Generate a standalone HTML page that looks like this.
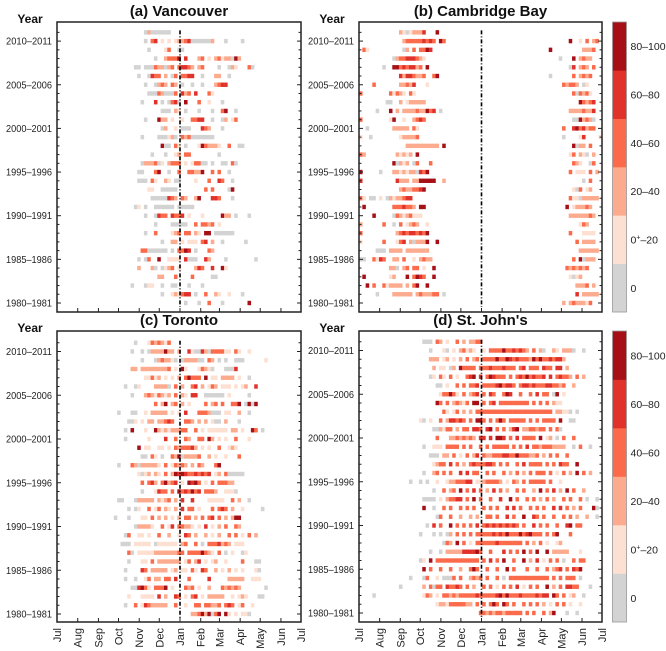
<!DOCTYPE html>
<html><head><meta charset="utf-8">
<style>
html,body{margin:0;padding:0;background:#fff;}
svg{display:block;font-family:"Liberation Sans",sans-serif;}
</style></head>
<body>
<svg id="chart" width="666" height="651" viewBox="0 0 666 651" xmlns="http://www.w3.org/2000/svg"></svg>
<script>
// ---- data ----
const categories = ["0","0+–20","20–40","40–60","60–80","80–100"];
const colors = ["#d3d3d3","#fee0d2","#fcab8e","#fb6a4a","#e0312a","#a50f15"];
const yearLabels = ["1980–1981","1985–1986","1990–1991","1995–1996","2000–2001","2005–2006","2010–2011"];
const monthLabels = ["Jul","Aug","Sep","Oct","Nov","Dec","Jan","Feb","Mar","Apr","May","Jun","Jul"];
const monthDays = [0,31,62,92,123,153,184,215,243,274,304,335,365];
// rows: index 0 = 2011-2012 (top) ... last = 1980-1981; "start:codes" pentad segments, '.' = no data
const vancouver = [
"26:02000000","26:0.34.1.1.122340000002...0....0","27:0....13..00","29:0..23335.4...23.1.23122052",
"23:00.000322023.34432.23....0..021...30","24:0..0433.2.03.3344..0...22..0","26:0..0232.32.0..0..0...2344",
"27:000320003.423.4...31","25:0...4.0.0340.5...3..1...0","31:000.21.0...0...0..35..0",
"26:0...522.1..1..3344..0..02.13","31:02..1.000...432...0","25:0....000120.3230000000",
"31:500.31.0...1532221..3..00","28:0...0..12.33........0","25:0222301.2333.1.13300.0..00.30",
"24:00...35..0..3..33225..3.3..0","24:000.31..21.00....1...3..43..0","27:11..00000........3.3....05",
"28:00000432.32..25...443...0","23:01.0..000000.00000","26:0..0433.4334.1...1.....522.0...0",
"29:0....00000..3.3323.1","26:0..3....123.33.21.55.000000","31:0..22.1.111.34.2..0......0",
"25:33000000.0.3354.0...32","24:0.03..5..1111.4000..42....0........0","24:2...20.0123.1....243..4..51",
"30:22...3....3.....00","22:0...011..0..00...0...0","31:0..121344.0..3..21..1...0","38:0...0..3...0.......5"];
const cambridge = [
"12:21012224...5","13:2333334343.53 63:5..1.3.23","1:31 13:02.3.3354 57:5 67:2223","10:0233444321 60:0...5.2322",
"7:0..553434423.5 63:04.232.3","12:42443223..35 57:0 64:3.2323","4:3 12:22324...1 61:32332.01",
"0:3 9:31321.31 64:303231","8:00..2.122222 66:53234","5:0...5.2.2222322534.0 63:22223224",
"0:3 9:15..1..2343 64:0052320","2:0 10:22222.31 61:3..4534233","0:1..0 12:122223 61:0....14....1",
"14:2222222222.5 64:5022.3","0:32 11:21212.5 63:13.210.2","10:50212.03...3 64:321..03",
"0:5 6:0 10:22121220435 63:3.111.3.2","0:4 11:4222.2255555..2 67:0.3","12:23223345 64:103.12",
"0:31.00.1.02122344 63:311022222","1:5 10:3334332.55 62:5.122232","4:5 10:032123111 63:22222232",
"0:2 7:3..0.3.1232..1 66:132","0:3 11:2343443435 63:3...1111","0:1 7:3...134.202225..5 65:3.2222",
"5:000.2222.2222222 66:222222","0:00..3143..22.3..1.2322 64:3.50222","9:220.23.33.1..5 62:3232323",
"1:5 9:12...5.3543..5 63:1012","2:5.3..312222.2.35..5 65:2223.2","5:0 10:222222.2322233.0 65:4.22222","61:2.2322213"];
const toronto = [
"23:0...1323213","22:0..0.02222522.2..4100420333311.31..1","25:0...0232210.0222200.32.0.0..000......1",
"22:22.222222223.1.51...13210...0004","26:11312.1.1.2.35333.5.11.2222.1..0",
"20:0..01....22220.3.2..34.2.132.111.1.12..4","22:0...23213212.3.21.44..000000.1.....0",
"29:3.25.23.2.1....3.23.3..335.0505","18:0...00..1.22222.1.1.4...3332000.11..2..0",
"21:001.1.22.22343...332.2.2.100.2...0","20:0.5...1..5212122233..3.1.111111.22.1..53.0",
"20:0......1....4..3..32..33.52.1.1..3...1","24:5.11..11.1.3233342.1.1..3..121",
"25:00.31.0..325022223..2.1..1...3","18:0...320222221.3.13232.2.32...35",
"24:1012.21.3.254543343434.12.300000","25:3.342.35234.1.5453.1.3.33322",
"25:0...1433.3.5343534.3332..1110","18:00...022222.2123.2.4..4....11111..3.2..0",
"21:0.01..3.13.21.2.4.33.1...3.343.2..1.....0","17:0...0...11.3.2.2.1.2.33.2.3.34.3.2.255",
"23:022221..3.14.33221.1.4.1.2.3..32","20:03..11.1..3..2..1.43.2..2.1.2..3.3.1.3.2",
"19:000.11111.0111111.23..3.0.3334232.111","21:30.11111222222233.33335321.3.0.1..01",
"21:0...11.3.2222222.13.24.1.12..1....3...00","20:0....43.22222.12.11.31.43..2.1.2.1.1...10",
"20:0..0..13.22.33.4...3.....4.....22222..111","22:004531.3335.1...323.1..2...323232.......0",
"21:1...1111.4.2..43.1.34.1.22222..1.121...00","20:0..3.14322222..3..1..33.33223.343.13..1",
"40:223525035.51.1.110"];
const stjohns = [
"19:000.32.1..3.2.2233","21:0...10.1.23121..1.333353343432.3.20..21.2220..0",
"21:222.12.1.2.3.23.3333533543433325353343442","22:2.11.02.53333.33343334333.34.333.433.44.2",
"21:01.31.3.1..345.4.354333.3.343534334.4.34332.3.2","23:00.1..3.3.334.3333453443.34434333443323..2",
"24:133531.3.234.3.43..354..3..3.4.33.05.1","23:53.3.23213.55.3.34.333333333.3.3.3.211",
"25:31.13.2.2.33333333333333333333333.22110.0","18:10.1..3.244343.3.553.3.353.33333.3.3.3333.5..00",
"22:002133.2.33.443.45.3.3.245.2233233.3.30","23:3...22323232.44.4.554.3.4.3333.5.12.0.3..3",
"19:0..111.3333.3.3..3.3.33333.3.3.4.3323332222..0.3..0","21:000.22.3.1.3.24.32233344335333223.2.3.3..3",
"22:1233.4.3.2.34333443.3.3..3.4.3333.3.3.433..5","19:0..23.3.3..4.4.33..3.3..3.2.3.2.3.333.3.1.3.2.5.3.2",
"15:0..0.0..1..12233344.11233332.1.32.3.33333.3..1","22:0..3.23.5.3.4.3.2.4.3.2..3.3..2.5.3.4.2.5.3..2",
"19:0000.1.23344.3.5.3..3..4..5.3..3.3.2.3.2..3.3..3.0..0","19:5..0..3.3..3.3.3..3.3.3..4.4.3..3.3.3..4.4.3.2.3...50",
"23:03..3..2..2.2..33.3..4.3..5..43.3..3..3.3.2..2..0","20:0.4.3..5.3.3.3.4.34343434343.3..4.3.3..3..45.33",
"18:0...0.0.02.3.3.3.33333434353335345333.3.35...3","25:032.5.3.1.33333343333333.3.2.3.1..12",
"21:0..0.22222444453..3...4.3.3.5.3.5..5.22222...1","18:01.5.3333333333333.3.4.3.5..3..5.2.4.1.3.3.0..3.33",
"19:5.3..3..3..2..353..3..3..5.3...3..3..3.234.3.435","15:0...03..1.0003.3..2323.3..3.0.333333333333.3.3.333.0",
"12:0......2.3033.43343.3.2..3.3.1.3.3.4.1.3.3..5.2.3.4433...0","4:0 19:132.1.33232333334333334535333433334344.53.3.12..0",
"23:12213333322.3.3.353.53.3..3.3.3.2.1.3.3.1..1","36:3323233233333.3.3..3.25...0..0"];

// ---- drawing ----
const NS="http://www.w3.org/2000/svg";
const svg=document.getElementById('chart');
function mk(tag,attrs,parent){const e=document.createElementNS(NS,tag);for(const k in attrs)e.setAttribute(k,attrs[k]);(parent||svg).appendChild(e);return e;}

const panels=[
 {title:"(a) Vancouver",data:vancouver,x0:57,x1:301,y0:22,y1:312,base:303,step:8.73,labels:false,cb:false,name:"vancouver"},
 {title:"(b) Cambridge Bay",data:cambridge,x0:359,x1:602,y0:22,y1:312,base:303,step:8.73,labels:false,cb:true,name:"cambridge-bay"},
 {title:"(c) Toronto",data:toronto,x0:57,x1:301,y0:331,y1:622,base:614,step:8.75,labels:true,cb:false,name:"toronto"},
 {title:"(d) St. John's",data:stjohns,x0:359,x1:602,y0:331,y1:622,base:613,step:8.75,labels:true,cb:true,name:"st-johns"}];

panels.forEach(p=>{
  const g=mk('g',{});
  
  
  const W=p.x1-p.x0, cw=W/73;
  const xDay=d=>p.x0+d/365*W;
  const xP=i=>p.x0+i*cw;
  const yRow=r=>p.base-(p.data.length-1-r)*p.step; // r=0 top
  p.data.forEach((row,r)=>{
    row.split(' ').forEach(seg=>{
      const [s,codes]=seg.split(':');const st=parseInt(s);
      for(let k=0;k<codes.length;k++){const c=codes[k];if(c==='.')continue;
        const v=parseInt(c);
        const rc=mk('rect',{x:xP(st+k).toFixed(2),y:(yRow(r)-2.2).toFixed(2),width:(cw+0.2).toFixed(2),height:4.4,fill:colors[v]},g);
        
        
      }
    });
  });
  const dl=mk('line',{x1:xDay(184),x2:xDay(184),y1:yRow(0)-2,y2:yRow(p.data.length-1)+4,stroke:"#000","stroke-width":1.6,"stroke-dasharray":"4,2,1,2"},g);
  
  
  const fr=mk('rect',{x:p.x0,y:p.y0,width:W,height:p.y1-p.y0,fill:"none",stroke:"#222","stroke-width":1.5},g);
  
  
  for(let r=0;r<p.data.length;r++){
    const y=yRow(r), yr=2011-r, major=((yr-1980)%5===0);
    const L=major?4:2.5;
    mk('line',{x1:p.x0,x2:p.x0+L,y1:y,y2:y,stroke:"#222","stroke-width":1},g);
    mk('line',{x1:p.x1,x2:p.x1-L,y1:y,y2:y,stroke:"#222","stroke-width":1},g);
    if(major){const t=mk('text',{x:p.x0-5,y:y+3.5,"text-anchor":"end","font-size":10.5,fill:"#222",textLength:46,lengthAdjust:"spacingAndGlyphs"},g);
      t.textContent=yearLabels[(yr-1980)/5];
      
      }
  }
  monthDays.forEach((d,i)=>{
    const x=xDay(d);
    mk('line',{x1:x,x2:x,y1:p.y1,y2:p.y1-4,stroke:"#222","stroke-width":1},g);
    if(p.labels){const t=mk('text',{x:0,y:0,"text-anchor":"end","font-size":11,fill:"#222",transform:`translate(${x+4},628) rotate(-90)`},g);
      t.textContent=monthLabels[i];
      
      }
  });
  const tt=mk('text',{x:(p.x0+p.x1)/2,y:p.y0-6,"text-anchor":"middle","font-size":15,"font-weight":"bold",fill:"#111"},g);
  tt.textContent=p.title;
  
  
  const yt=mk('text',{x:p.x0-27,y:p.y0+1,"text-anchor":"middle","font-size":12,"font-weight":"bold",fill:"#111"},g);
  yt.textContent="Year";
  
  
  if(p.cb){
    const cb=mk('g',{},g);
    
    
    const cx=612.5,cwid=14,H=p.y1-p.y0,sh=H/6;
    for(let k=0;k<6;k++){
      const y=p.y1-(k+1)*sh;
      const s=mk('rect',{x:cx,y:y,width:cwid,height:sh+0.3,fill:colors[k]},cb);
      
      
      const t=mk('text',{x:cx+cwid+4,y:y+sh/2+4,"font-size":10.5,fill:"#222"},cb);
      if(k===1){t.innerHTML='0<tspan dy="-4" font-size="7">+</tspan><tspan dy="4">–20</tspan>';}
      else t.textContent=categories[k];
      
      
    }
    mk('rect',{x:cx,y:p.y0,width:cwid,height:H,fill:"none",stroke:"#999","stroke-width":0.8},cb);
  }
});
</script>
</body></html>
